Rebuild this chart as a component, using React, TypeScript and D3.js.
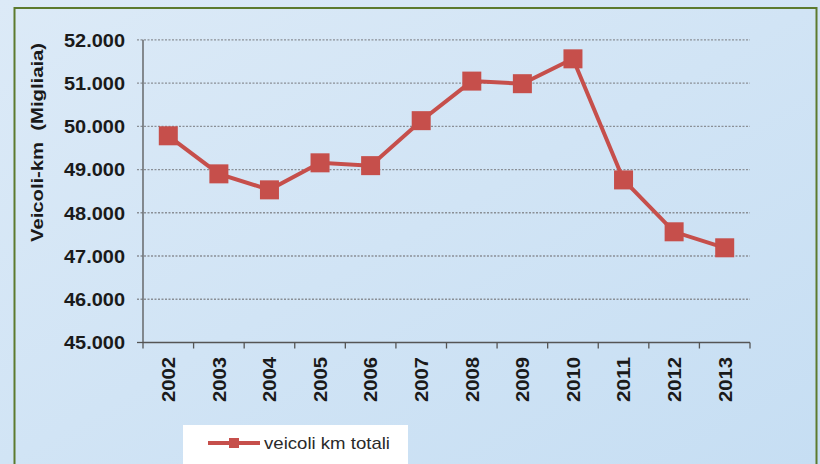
import React from "react";
import * as d3 from "d3";

const years = ["2002","2003","2004","2005","2006","2007","2008","2009","2010","2011","2012","2013"];
const values = [49780, 48900, 48530, 49155, 49090, 50130, 51045, 50985, 51560, 48760, 47560, 47190];
const yTicks = [45000, 46000, 47000, 48000, 49000, 50000, 51000, 52000];
const seriesName = "veicoli km totali";
const yTitle = "Veicoli-km  (Migliaia)";

const W = 820, H = 464;
const left = 143, right = 750, top = 39.8, bottom = 342.5;
const red = "#c64f4b";

const fmt = (v: number) => d3.format(",")(v).replace(/,/g, ".");

export default function App() {
  const x = d3.scaleBand<string>().domain(years).range([left, right]);
  const y = d3.scaleLinear().domain([45000, 52000]).range([bottom, top]);
  const cx = (d: string) => (x(d) as number) + x.bandwidth() / 2;
  const line = d3.line<number>().x((_, i) => cx(years[i])).y((v) => y(v));
  const ticksX = [...years.map((d) => x(d) as number), right];
  return (
    <svg width={W} height={H} style={{ position: "absolute", left: 0, top: 0 }} fontFamily="Arial, 'Liberation Sans', sans-serif">
      <defs>
        <linearGradient id="bg" x1="0" y1="0" x2="1" y2="1">
          <stop offset="0" stopColor="#dceaf7" />
          <stop offset="1" stopColor="#c6def3" />
        </linearGradient>
      </defs>
      <rect x={0} y={0} width={W} height={H} fill="url(#bg)" />
      <rect x={14.5} y={8} width={802} height={470} fill="none" stroke="#5c7a2e" strokeWidth={2} />
      {yTicks.map((t) => (
        <g key={t}>
          {t > 45000 && (
            <line x1={left - 6} x2={right} y1={y(t)} y2={y(t)} stroke="#8a8f96" strokeWidth={1.3} strokeDasharray="2,1.5" />
          )}
          {t === 45000 && <line x1={left - 6} x2={left} y1={y(t)} y2={y(t)} stroke="#555" strokeWidth={1.3} />}
          <text x={125} y={y(t)} dy="0.36em" textAnchor="end" fontSize={19} fontWeight="bold" fill="#1a1a1a" textLength={61} lengthAdjust="spacingAndGlyphs">{fmt(t)}</text>
        </g>
      ))}
      <line x1={left} x2={left} y1={top} y2={bottom} stroke="#555" strokeWidth={1.3} />
      <line x1={left} x2={right} y1={bottom} y2={bottom} stroke="#555" strokeWidth={1.3} />
      {ticksX.map((t, i) => (
        <line key={i} x1={t} x2={t} y1={bottom} y2={bottom + 6} stroke="#555" strokeWidth={1.3} />
      ))}
      {years.map((d) => (
        <text key={d} transform={`translate(${cx(d)},357) rotate(-90)`} dy="0.36em" textAnchor="end" fontSize={19} fontWeight="bold" fill="#1a1a1a" textLength={45} lengthAdjust="spacingAndGlyphs">{d}</text>
      ))}
      <text transform={`translate(37,142.5) rotate(-90)`} dy="0.36em" textAnchor="middle" fontSize={17} fontWeight="bold" fill="#1a1a1a" textLength={199} lengthAdjust="spacingAndGlyphs" style={{ whiteSpace: "pre" }}>{yTitle}</text>
      <path d={line(values) as string} fill="none" stroke={red} strokeWidth={4} />
      {values.map((v, i) => (
        <rect key={i} x={cx(years[i]) - 9.5} y={y(v) - 9.5} width={19} height={19} fill={red} />
      ))}
      <rect x={183} y={425} width={225} height={40} fill="#fff" />
      <line x1={208} x2={260} y1={443} y2={443} stroke={red} strokeWidth={4} />
      <rect x={229} y={438} width={10} height={10} fill={red} />
      <text x={264} y={443} dy="0.36em" fontSize={17} fill="#2a2a2a" textLength={126} lengthAdjust="spacingAndGlyphs">{seriesName}</text>
    </svg>
  );
}
